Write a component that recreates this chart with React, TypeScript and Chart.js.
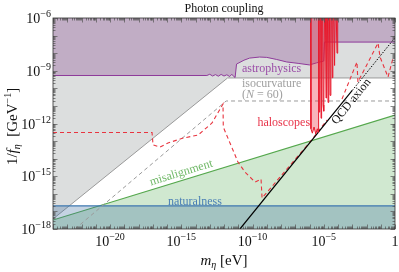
import React, { useEffect, useRef } from "react";
import { Chart, registerables } from "chart.js";
Chart.register(...registerables);

// ---- data (log10 exponents) ----
const X_TICK_EXP = [-20, -15, -10, -5, 0];
const Y_TICK_EXP = [-18, -15, -12, -9, -6];
const X_RANGE = [-24, 0];
const Y_RANGE = [-18, -6];

// grey excluded region (lower boundary)
const GREY_M = [-24, -11.75, 0];
const GREY_G = [-17.43, -9.41, -9.41];

// astrophysics (lower boundary)
const ASTRO_M = [-24, -13.2, -13.0, -12.8, -12.6, -12.4, -12.2, -12.0, -11.8, -11.6, -11.45, -11.3, -11.22, -11.12, -10.95, -10.6, -10.2, -9.5, -9.0, -8.3, -7.6, -6.8, -6.0, -5.5, -5.0, -4.95, 0];
const ASTRO_G = [-9.27, -9.27, -9.2, -9.3, -9.22, -9.31, -9.21, -9.3, -9.23, -9.33, -9.2, -9.34, -9.38, -8.62, -8.55, -8.4, -8.28, -8.22, -8.24, -8.36, -8.5, -8.58, -8.67, -8.55, -8.45, -7.37, -7.37];

// isocurvature (N = 60) dashed
const ISO_M = [-22.46, -11.85, 0];
const ISO_G = [-18, -10.72, -10.72];

// misalignment
const MIS_M = [-24, 0];
const MIS_G = [-17.49, -11.52];

// naturalness
const NAT_M = [-24, 0];
const NAT_G = [-16.68, -16.68];

// QCD axion
const QCD_SOLID_M = [-10.88, -3.0];
const QCD_SOLID_G = [-18, -10.12];
const QCD_DOT_M = [-3.0, 0];
const QCD_DOT_G = [-10.12, -7.12];

// haloscope projections (dashed)
const PROJ1_M = [-24, -17.05, -16.98, -16.49, -15.93, -14.88, -13.82, -12.84, -12.07, -12.05, -11.58, -11.02, -10.53, -9.82, -9.4, -9.33, -5.96, -4.77];
const PROJ1_G = [-12.51, -12.51, -13.22, -13.34, -13.11, -12.83, -12.66, -11.97, -10.89, -12.2, -13.11, -14.19, -14.76, -15.33, -15.16, -16.24, -13.05, -11.8];
const PROJ2_M = [-3.72, -2.67, -2.6, -1.19, -1.05, -0.49, -0.14];
const PROJ2_G = [-10.61, -8.5, -9.64, -7.42, -8.22, -9.36, -8.28];

// haloscope limits (spikes)
const HALO_M = [-5.92, -5.9, -5.8, -5.68, -5.56, -5.45, -5.4, -5.36, -5.33, -5.28, -5.22, -5.19, -5.15, -5.08, -5.05, -5.0, -4.95, -4.88, -4.84, -4.8, -4.74, -4.7, -4.65, -4.6, -4.56, -4.5, -4.44, -4.4, -4.36, -4.3, -4.24, -4.2, -4.12, -4.07, -4.02];
const HALO_G = [-6, -12.3, -12.55, -12.2, -12.6, -12.3, -12.5, -6, -11.35, -6, -6, -11.7, -6, -6, -10.95, -11.3, -6, -6, -10.55, -6, -6, -10.8, -6, -6, -10.4, -6, -6, -9.4, -6, -6, -8.7, -6, -6, -8.0, -6];

const FONT = "'Liberation Serif','DejaVu Serif',serif";

const pts = (ms: number[], gs: number[]) => ms.map((m, i) => ({ x: Math.pow(10, m), y: Math.pow(10, gs[i]) }));

type Seg = [string, number, boolean, number];
function rich(ctx: CanvasRenderingContext2D, segs: Seg[], x: number, y: number, align: string) {
  let w = 0;
  for (const s of segs) {
    ctx.font = `${s[2] ? "italic " : ""}${s[1]}px ${FONT}`;
    w += ctx.measureText(s[0]).width;
  }
  let cx = align === "center" ? x - w / 2 : align === "right" ? x - w : x;
  ctx.textAlign = "left";
  ctx.textBaseline = "alphabetic";
  for (const s of segs) {
    ctx.font = `${s[2] ? "italic " : ""}${s[1]}px ${FONT}`;
    ctx.fillText(s[0], cx, y + s[3]);
    cx += ctx.measureText(s[0]).width;
  }
}
function powSegs(e: number): Seg[] {
  if (e === 0) return [["1", 14, false, 0]];
  return [["10", 14, false, 0], ["\u2212" + Math.abs(e), 10, false, -6]];
}

const deco = {
  id: "deco",
  afterDraw(chart: any) {
    const ctx: CanvasRenderingContext2D = chart.ctx;
    const xs = chart.scales.x, ys = chart.scales.y;
    const a = chart.chartArea;
    const X = (m: number) => xs.getPixelForValue(Math.pow(10, m));
    const Y = (g: number) => ys.getPixelForValue(Math.pow(10, g));
    ctx.save();
    // ticks
    ctx.strokeStyle = "#555";
    ctx.lineWidth = 0.7;
    ctx.beginPath();
    for (let k = X_RANGE[0]; k <= X_RANGE[1]; k++) {
      for (let j = 1; j <= 9; j++) {
        const v = k + Math.log10(j);
        if (v > X_RANGE[1] + 1e-9) break;
        const px = Math.round(X(v)) + 0.5;
        const L = j === 1 ? 4.5 : 2.5;
        ctx.moveTo(px, a.bottom); ctx.lineTo(px, a.bottom - L);
        ctx.moveTo(px, a.top); ctx.lineTo(px, a.top + L);
      }
    }
    for (let k = Y_RANGE[0]; k <= Y_RANGE[1]; k++) {
      for (let j = 1; j <= 9; j++) {
        const v = k + Math.log10(j);
        if (v > Y_RANGE[1] + 1e-9) break;
        const py = Math.round(Y(v)) + 0.5;
        const L = j === 1 ? 4.5 : 2.5;
        ctx.moveTo(a.left, py); ctx.lineTo(a.left + L, py);
        ctx.moveTo(a.right, py); ctx.lineTo(a.right - L, py);
      }
    }
    ctx.stroke();
    // frame
    ctx.strokeStyle = "#333";
    ctx.lineWidth = 0.8;
    ctx.strokeRect(a.left, a.top, a.right - a.left, a.bottom - a.top);

    // tick labels
    ctx.fillStyle = "#111";
    for (const e of X_TICK_EXP) rich(ctx, powSegs(e), X(e), a.bottom + 17, "center");
    for (const e of Y_TICK_EXP) rich(ctx, powSegs(e), a.left - 2, Y(e) + 5, "right");

    // title and axis labels
    rich(ctx, [["Photon coupling", 12, false, 0]], (a.left + a.right) / 2, 12, "center");
    rich(ctx, [["m", 15, true, 0], ["\u03b7", 10, true, 3], [" [eV]", 15, false, 0]], (a.left + a.right) / 2, 265, "center");
    ctx.save();
    ctx.translate(17, (a.top + a.bottom) / 2 + 3);
    ctx.rotate(-Math.PI / 2);
    rich(ctx, [["1/", 15, false, 0], ["f", 15, true, 0], ["\u03b7", 10, true, 3], ["  [GeV", 15, false, 0], ["\u22121", 10, false, -6], ["]", 15, false, 0]], 0, 0, "center");
    ctx.restore();

    // region labels
    ctx.fillStyle = "#9b4ea8";
    rich(ctx, [["astrophysics", 12, false, 0]], X(-10.74), Y(-8.84) + 4, "left");
    ctx.fillStyle = "#a0a0a0";
    rich(ctx, [["isocurvature", 12, false, 0]], X(-10.74), Y(-9.7) + 4, "left");
    rich(ctx, [["(", 12, false, 0], ["N", 12, true, 0], [" = 60)", 12, false, 0]], X(-10.74), Y(-10.33) + 4, "left");
    ctx.fillStyle = "#e8344a";
    rich(ctx, [["haloscopes", 12, false, 0]], X(-5.96), Y(-11.92) + 4, "right");
    ctx.fillStyle = "#4a7fb5";
    rich(ctx, [["naturalness", 12, false, 0]], X(-14.04), Y(-16.41) + 4, "center");

    // misalignment rotated along its line
    const ang1 = Math.atan2(Y(MIS_G[1]) - Y(MIS_G[0]), X(MIS_M[1]) - X(MIS_M[0]));
    ctx.save();
    ctx.translate(X(-15.02), Y(-14.76));
    ctx.rotate(ang1);
    ctx.fillStyle = "#6fb866";
    rich(ctx, [["misalignment", 12, false, 0]], 0, 4, "center");
    ctx.restore();

    const ang2 = Math.atan2(Y(QCD_DOT_G[1]) - Y(QCD_SOLID_G[0]), X(QCD_DOT_M[1]) - X(QCD_SOLID_M[0]));
    ctx.save();
    ctx.translate(X(-3.1), Y(-10.72));
    ctx.rotate(ang2);
    ctx.fillStyle = "#111";
    rich(ctx, [["QCD axion", 12, false, 0]], 0, 4, "center");
    ctx.restore();

    ctx.restore();
  },
};

export default function App() {
  const ref = useRef<HTMLCanvasElement | null>(null);
  useEffect(() => {
    if (!ref.current) return;
    const base = { pointRadius: 0, pointHoverRadius: 0, tension: 0 };
    const chart = new Chart(ref.current, {
      type: "line",
      data: {
        datasets: [
          { ...base, label: "grey", data: pts(GREY_M, GREY_G), borderColor: "#9a9a9a", borderWidth: 1, backgroundColor: "rgba(140,145,145,0.3)", fill: "end", order: 10 },
          { ...base, label: "astrophysics", data: pts(ASTRO_M, ASTRO_G), borderColor: "#8e3a9a", borderWidth: 1, backgroundColor: "rgba(128,60,140,0.3)", fill: "end", order: 9 },
          { ...base, label: "misalignment", data: pts(MIS_M, MIS_G), borderColor: "#55a84d", borderWidth: 1.2, backgroundColor: "rgba(80,170,80,0.27)", fill: "start", order: 8 },
          { ...base, label: "naturalness", data: pts(NAT_M, NAT_G), borderColor: "#3f78b0", borderWidth: 1.2, backgroundColor: "rgba(60,110,160,0.3)", fill: "start", order: 7 },
          { ...base, label: "isocurvature", data: pts(ISO_M, ISO_G), borderColor: "#9a9a9a", borderWidth: 1, borderDash: [4, 3], fill: false, order: 6 },
          { ...base, label: "proj1", data: pts(PROJ1_M, PROJ1_G), borderColor: "#e8343f", borderWidth: 1.1, borderDash: [4, 3], fill: false, order: 5 },
          { ...base, label: "proj2", data: pts(PROJ2_M, PROJ2_G), borderColor: "#e8343f", borderWidth: 1.1, borderDash: [4, 3], fill: false, order: 5 },
          { ...base, label: "QCD axion", data: pts(QCD_SOLID_M, QCD_SOLID_G), borderColor: "#000", borderWidth: 1.2, fill: false, order: 4 },
          { ...base, label: "QCD dotted", data: pts(QCD_DOT_M, QCD_DOT_G), borderColor: "#000", borderWidth: 1, borderDash: [1.5, 1.5], fill: false, order: 4 },
          { ...base, label: "haloscopes", data: pts(HALO_M, HALO_G), borderColor: "#e8192c", borderWidth: 1, backgroundColor: "rgba(235,40,60,0.35)", fill: "end", order: 3 },
        ],
      },
      options: {
        responsive: false,
        animation: false,
        events: [],
        layout: { padding: { top: 18, right: 4, left: 0, bottom: 0 } },
        plugins: { legend: { display: false }, tooltip: { enabled: false }, title: { display: false } },
        scales: {
          x: {
            type: "logarithmic",
            min: Math.pow(10, X_RANGE[0]),
            max: Math.pow(10, X_RANGE[1]),
            grid: { display: false },
            border: { display: false },
            ticks: { display: false },
            afterBuildTicks: (s: any) => { s.ticks = X_TICK_EXP.map((e) => ({ value: Math.pow(10, e) })); },
            afterFit: (s: any) => { s.height = 43; },
          },
          y: {
            type: "logarithmic",
            min: Math.pow(10, Y_RANGE[0]),
            max: Math.pow(10, Y_RANGE[1]),
            grid: { display: false },
            border: { display: false },
            ticks: { display: false },
            afterBuildTicks: (s: any) => { s.ticks = Y_TICK_EXP.map((e) => ({ value: Math.pow(10, e) })); },
            afterFit: (s: any) => { s.width = 53; },
          },
        },
      } as any,
      plugins: [deco],
    });
    return () => chart.destroy();
  }, []);
  return (
    <div style={{ position: "absolute", left: 0, top: 0, width: 399, height: 272, background: "#fff" }}>
      <canvas ref={ref} width={399} height={272} style={{ display: "block" }} />
    </div>
  );
}
